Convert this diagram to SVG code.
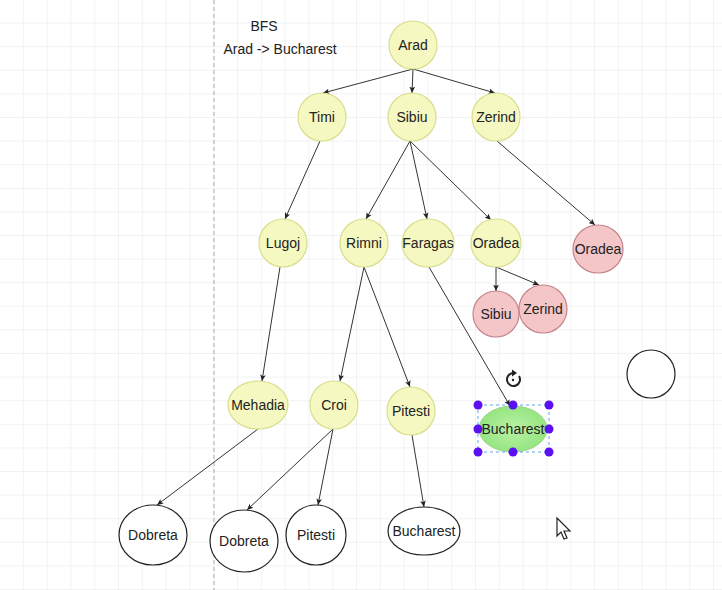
<svg xmlns="http://www.w3.org/2000/svg" width="722" height="590" viewBox="0 0 722 590">
<defs>
<pattern id="grid" x="0" y="0" width="23.8" height="23.6" patternUnits="userSpaceOnUse">
<path d="M 23.8 0 V 23.6 M 0 23.6 H 23.8" fill="none" stroke="#e6e6e6" stroke-width="1"/>
</pattern>
<marker id="arr" viewBox="0 0 10 10" refX="9" refY="5" markerWidth="7" markerHeight="7" orient="auto">
<path d="M0,1 L9,5 L0,9 L2,5 Z" fill="#222"/>
</marker>
<radialGradient id="gr" cx="0.5" cy="0.5" r="0.6">
<stop offset="0" stop-color="#b9f2a6"/>
<stop offset="1" stop-color="#8fe27a"/>
</radialGradient>
</defs>
<style>
.y{fill:#f5f8c0;stroke:#d7df8c;stroke-width:1.2}
.p{fill:#f5c6c8;stroke:#c4858a;stroke-width:1.2}
.w{fill:#fff;stroke:#222;stroke-width:1.2}
.g{fill:url(#gr);stroke:#9bd58a;stroke-width:1}
text{font-family:"Liberation Sans",Arial,sans-serif;font-size:14px;fill:#222;text-anchor:middle;dominant-baseline:central}
.e{fill:none;stroke:#333;stroke-width:1;marker-end:url(#arr)}
.h{fill:#5a10f0}
</style>
<rect width="722" height="590" fill="#fff"/>
<rect width="722" height="590" fill="url(#grid)"/>
<line x1="214" y1="0" x2="214" y2="590" stroke="#aaa" stroke-width="1" stroke-dasharray="4,3"/>
<g id="title">
<text x="264" y="26">BFS</text>
<text x="280" y="49">Arad -&gt; Bucharest</text>
</g>
<g id="connectors">
<line class="e" x1="413" y1="69" x2="323" y2="93"/>
<line class="e" x1="413" y1="69" x2="412" y2="93"/>
<line class="e" x1="413" y1="69" x2="495" y2="93"/>
<line class="e" x1="320" y1="141" x2="285" y2="219"/>
<line class="e" x1="410" y1="141" x2="366" y2="219"/>
<line class="e" x1="410" y1="141" x2="427" y2="219"/>
<line class="e" x1="410" y1="141" x2="491" y2="220"/>
<line class="e" x1="497" y1="141" x2="595" y2="225"/>
<line class="e" x1="496" y1="267" x2="496" y2="291"/>
<line class="e" x1="496" y1="267" x2="539" y2="285"/>
<line class="e" x1="280" y1="267" x2="262" y2="381"/>
<line class="e" x1="364" y1="267" x2="340" y2="381"/>
<line class="e" x1="364" y1="267" x2="410" y2="387"/>
<line class="e" x1="429" y1="267" x2="510" y2="406"/>
<line class="e" x1="258" y1="429" x2="157" y2="505"/>
<line class="e" x1="333" y1="429" x2="247" y2="510"/>
<line class="e" x1="333" y1="429" x2="318" y2="505"/>
<line class="e" x1="412" y1="435" x2="424" y2="507"/>
</g>
<g id="n-arad"><circle class="y" cx="413" cy="45" r="24"/><text x="413" y="45">Arad</text></g>
<g id="n-timi"><circle class="y" cx="322" cy="117" r="24"/><text x="322" y="117">Timi</text></g>
<g id="n-sibiu"><circle class="y" cx="412" cy="117" r="24"/><text x="412" y="117">Sibiu</text></g>
<g id="n-zerind"><circle class="y" cx="496" cy="117" r="24"/><text x="496" y="117">Zerind</text></g>
<g id="n-lugoj"><circle class="y" cx="283" cy="243" r="24"/><text x="283" y="243">Lugoj</text></g>
<g id="n-rimni"><circle class="y" cx="364" cy="243" r="24"/><text x="364" y="243">Rimni</text></g>
<g id="n-faragas"><ellipse class="y" cx="428" cy="243" rx="26" ry="24"/><text x="428" y="243">Faragas</text></g>
<g id="n-oradea"><ellipse class="y" cx="496" cy="243" rx="25" ry="24"/><text x="496" y="243">Oradea</text></g>
<g id="n-oradea2"><ellipse class="p" cx="598" cy="249" rx="25" ry="24"/><text x="598" y="249">Oradea</text></g>
<g id="n-sibiu2"><circle class="p" cx="496" cy="314" r="23"/><text x="496" y="314">Sibiu</text></g>
<g id="n-zerind2"><circle class="p" cx="543" cy="309" r="24"/><text x="543" y="309">Zerind</text></g>
<g id="n-mehadia"><ellipse class="y" cx="258" cy="405" rx="30" ry="24"/><text x="258" y="405">Mehadia</text></g>
<g id="n-croi"><circle class="y" cx="334" cy="405" r="24"/><text x="334" y="405">Croi</text></g>
<g id="n-pitesti"><circle class="y" cx="411" cy="411" r="24"/><text x="411" y="411">Pitesti</text></g>
<g id="n-bucharest"><ellipse class="g" cx="513" cy="429" rx="34" ry="23"/><text x="513" y="429">Bucharest</text></g>
<g id="n-empty"><circle class="w" cx="651" cy="374" r="24"/></g>
<g id="n-dobreta1"><ellipse class="w" cx="153" cy="535" rx="34" ry="30"/><text x="153" y="535">Dobreta</text></g>
<g id="n-dobreta2"><ellipse class="w" cx="244" cy="541" rx="34" ry="31"/><text x="244" y="541">Dobreta</text></g>
<g id="n-pitesti2"><ellipse class="w" cx="316" cy="535" rx="30" ry="30"/><text x="316" y="535">Pitesti</text></g>
<g id="n-bucharest2"><ellipse class="w" cx="424" cy="531" rx="36" ry="24"/><text x="424" y="531">Bucharest</text></g>
<g id="selection">
<rect x="478" y="405" width="71" height="47" fill="none" stroke="#5aa8e6" stroke-width="1" stroke-dasharray="3,3"/>
<circle class="h" cx="478" cy="405" r="4.5"/><circle class="h" cx="513" cy="405" r="4.5"/><circle class="h" cx="549" cy="405" r="4.5"/>
<circle class="h" cx="478" cy="429" r="4.5"/><circle class="h" cx="549" cy="429" r="4.5"/>
<circle class="h" cx="478" cy="452" r="4.5"/><circle class="h" cx="513" cy="452" r="4.5"/><circle class="h" cx="549" cy="452" r="4.5"/>
<path d="M 519 376 A 6.5 6.5 0 1 1 513 373" fill="none" stroke="#222" stroke-width="2"/>
<path d="M 512 369.5 L 517 373 L 512 376.5 Z" fill="#222"/>
<circle cx="513" cy="380" r="1.2" fill="#222"/>
</g>
<g id="cursor">
<path d="M 557 518 L 557 536 L 561 532 L 564 539 L 567 538 L 564 531 L 570 531 Z" fill="#fff" stroke="#222" stroke-width="1.2"/>
</g>
</svg>
